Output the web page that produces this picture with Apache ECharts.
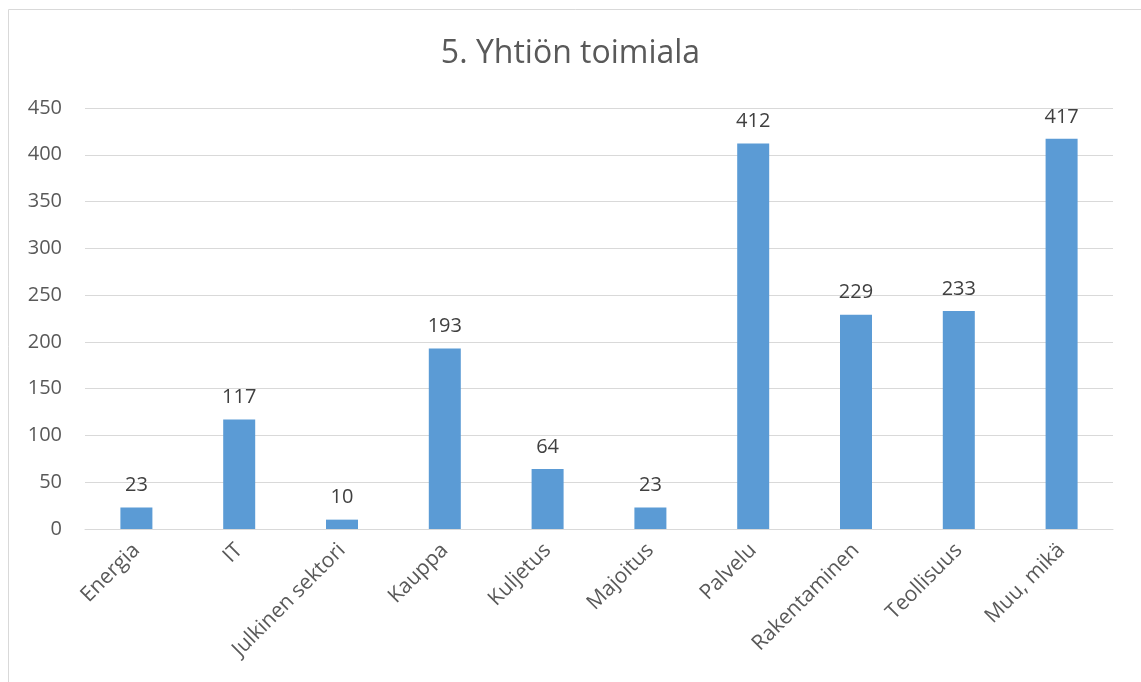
<!DOCTYPE html>
<html>
<head>
<meta charset="utf-8">
<script src="https://cdn.jsdelivr.net/npm/echarts@6/dist/echarts.min.js"></script>
<style>
  html, body { margin: 0; padding: 0; background: #fff; }
  #chart { width: 1141px; height: 682px; }
</style>
</head>
<body>
<div id="chart"></div>
<script>
// kategoriat ja arvot
var categories = ['Energia', 'IT', 'Julkinen sektori', 'Kauppa', 'Kuljetus', 'Majoitus', 'Palvelu', 'Rakentaminen', 'Teollisuus', 'Muu, mikä'];
var values = [23, 117, 10, 193, 64, 23, 412, 229, 233, 417];

var textColor = '#595959';
var fontFamily = '"Open Sans", "Noto Sans", sans-serif';

var myChart = echarts.init(document.getElementById('chart'));
var option = {
    animation: false,
    textStyle: { fontFamily: fontFamily },
    title: {
        text: '5. Yhtiön toimiala',
        left: 'center',
        top: 33,
        textStyle: { fontSize: 32, fontWeight: 'normal', color: textColor, fontFamily: fontFamily }
    },
    // kehys
    graphic: [{
        type: 'rect',
        shape: { x: 8.5, y: 9.5, width: 1200, height: 800 },
        style: { fill: 'none', stroke: '#d9d9d9', lineWidth: 1 },
        silent: true
    }],
    grid: { left: 85, right: 28, top: 108, bottom: 153, containLabel: false },
    xAxis: {
        type: 'category',
        data: categories,
        axisLine: { show: true, lineStyle: { color: '#d9d9d9', width: 1 } },
        axisTick: { show: false },
        axisLabel: { rotate: 45, interval: 0, color: textColor, fontSize: 21, margin: 18 }
    },
    yAxis: {
        type: 'value',
        min: 0,
        max: 450,
        interval: 50,
        axisLine: { show: false },
        axisTick: { show: false },
        axisLabel: { color: textColor, fontSize: 20, margin: 23 },
        splitLine: { lineStyle: { color: '#d9d9d9', width: 1 } }
    },
    series: [{
        type: 'bar',
        data: values,
        barWidth: 32,
        itemStyle: { color: '#5b9bd5' },
        label: { show: true, position: 'top', distance: 12, color: '#404040', fontSize: 20 }
    }]
};
myChart.setOption(option);
</script>
</body>
</html>
